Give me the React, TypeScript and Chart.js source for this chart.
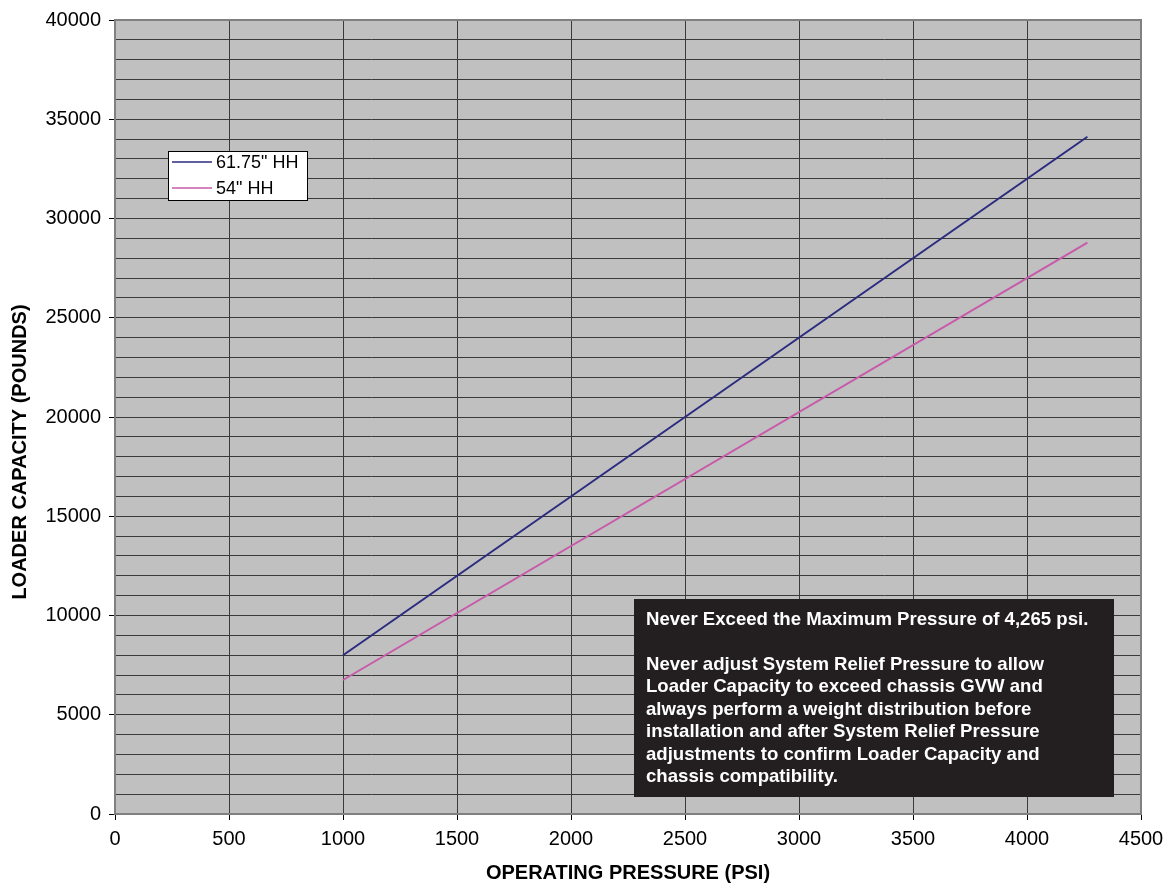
import React, { useEffect, useRef } from "react";
import { Chart, registerables } from "chart.js";

Chart.register(...registerables);

const pressure = [1000, 4265];
const capacity6175 = [8000, 34120];
const capacity54 = [6750, 28789];
const seriesLabels = ['61.75" HH', '54" HH'];
const seriesColors = ["#2b2b80", "#c85aaa"];
const xTitle = "OPERATING PRESSURE (PSI)";
const yTitle = "LOADER CAPACITY (POUNDS)";
const noteLines = [
  "Never Exceed the Maximum Pressure of 4,265 psi.",
  "",
  "Never adjust System Relief Pressure to allow",
  "Loader Capacity to exceed chassis GVW and",
  "always perform a weight distribution before",
  "installation and after System Relief Pressure",
  "adjustments to confirm Loader Capacity and",
  "chassis compatibility.",
];

const FONT = "Arial, 'Liberation Sans', sans-serif";

const decorPlugin = {
  id: "decor",
  beforeDraw(chart: any) {
    const { ctx, chartArea: a } = chart;
    ctx.save();
    ctx.fillStyle = "#ffffff";
    ctx.fillRect(0, 0, chart.width, chart.height);
    ctx.fillStyle = "#c0c0c0";
    ctx.fillRect(a.left, a.top, a.right - a.left, a.bottom - a.top);
    ctx.restore();
  },
  beforeDatasetsDraw(chart: any) {
    const { ctx, chartArea: a } = chart;
    ctx.save();
    ctx.strokeStyle = "#808080";
    ctx.lineWidth = 2;
    ctx.strokeRect(a.left, a.top, a.right - a.left, a.bottom - a.top);
    ctx.restore();
  },
  afterDraw(chart: any) {
    const { ctx, chartArea: a } = chart;
    ctx.save();
    // axis titles
    ctx.fillStyle = "#000";
    ctx.font = `bold 20px ${FONT}`;
    ctx.textAlign = "center";
    ctx.textBaseline = "middle";
    ctx.fillText(xTitle, (a.left + a.right) / 2, 873);
    ctx.save();
    ctx.translate(20, 452);
    ctx.rotate(-Math.PI / 2);
    ctx.fillText(yTitle, 0, 0);
    ctx.restore();

    // legend
    const lx = 168, ly = 151, lw = 139, lh = 49;
    ctx.fillStyle = "#fff";
    ctx.fillRect(lx, ly, lw, lh);
    ctx.strokeStyle = "#000";
    ctx.lineWidth = 1;
    ctx.strokeRect(lx + 0.5, ly + 0.5, lw, lh);
    ctx.font = `18px ${FONT}`;
    ctx.textAlign = "left";
    chart.data.datasets.forEach((ds: any, i: number) => {
      const y = ly + 11 + i * 26;
      ctx.strokeStyle = ds.borderColor;
      ctx.lineWidth = 1.5;
      ctx.beginPath();
      ctx.moveTo(lx + 4, y);
      ctx.lineTo(lx + 44, y);
      ctx.stroke();
      ctx.fillStyle = "#000";
      ctx.fillText(ds.label, lx + 48, y + 1);
    });

    // note box
    const bx = 634, by = 599, bw = 480, bh = 198;
    ctx.fillStyle = "#231f20";
    ctx.fillRect(bx, by, bw, bh);
    ctx.fillStyle = "#fff";
    ctx.font = `bold 18.6px ${FONT}`;
    ctx.textAlign = "left";
    ctx.textBaseline = "middle";
    noteLines.forEach((t, i) => {
      if (t) ctx.fillText(t, bx + 12, by + 21 + i * 22.4);
    });
    ctx.restore();
  },
};

export default function App() {
  const ref = useRef<HTMLCanvasElement>(null);
  useEffect(() => {
    if (!ref.current) return;
    const chart = new Chart(ref.current, {
      type: "line",
      data: {
        datasets: [
          {
            label: seriesLabels[0],
            data: pressure.map((p, i) => ({ x: p, y: capacity6175[i] })),
            borderColor: seriesColors[0],
            borderWidth: 2,
            pointRadius: 0,
            fill: false,
          },
          {
            label: seriesLabels[1],
            data: pressure.map((p, i) => ({ x: p, y: capacity54[i] })),
            borderColor: seriesColors[1],
            borderWidth: 2,
            pointRadius: 0,
            fill: false,
          },
        ],
      },
      options: {
        responsive: false,
        animation: false,
        devicePixelRatio: 1,
        layout: { padding: { top: 20, right: 26, left: 0, bottom: 0 } },
        plugins: { legend: { display: false }, tooltip: { enabled: false } },
        scales: {
          x: {
            type: "linear",
            min: 0,
            max: 4500,
            afterFit: (s: any) => {
              s.height = 70;
              s.paddingLeft = 0;
              s.paddingRight = 0;
            },
            ticks: {
              stepSize: 500,
              color: "#000",
              font: { family: FONT, size: 20 },
              padding: 7,
              maxRotation: 0,
              callback: (v: any) => String(v),
            },
            grid: {
              color: "#3a3a3a",
              lineWidth: 1,
              tickLength: 6,
              tickColor: "#000",
            },
            border: { display: false },
          },
          y: {
            min: 0,
            max: 40000,
            afterFit: (s: any) => {
              s.width = 115;
              s.paddingTop = 0;
              s.paddingBottom = 0;
            },
            ticks: {
              stepSize: 1000,
              autoSkip: false,
              color: "#000",
              font: { family: FONT, size: 20 },
              padding: 8,
              callback: (v: any) => (Number(v) % 5000 === 0 ? String(v) : ""),
            },
            grid: {
              color: "#3a3a3a",
              lineWidth: 1,
              tickLength: 6,
              tickColor: (c: any) =>
                c.tick && c.tick.value % 5000 === 0 ? "#000" : "rgba(0,0,0,0)",
            },
            border: { display: false },
          },
        },
      },
      plugins: [decorPlugin],
    });
    return () => chart.destroy();
  }, []);
  return (
    <div style={{ position: "fixed", left: 0, top: 0 }}>
      <canvas ref={ref} width={1167} height={884} style={{ display: "block" }} />
    </div>
  );
}
